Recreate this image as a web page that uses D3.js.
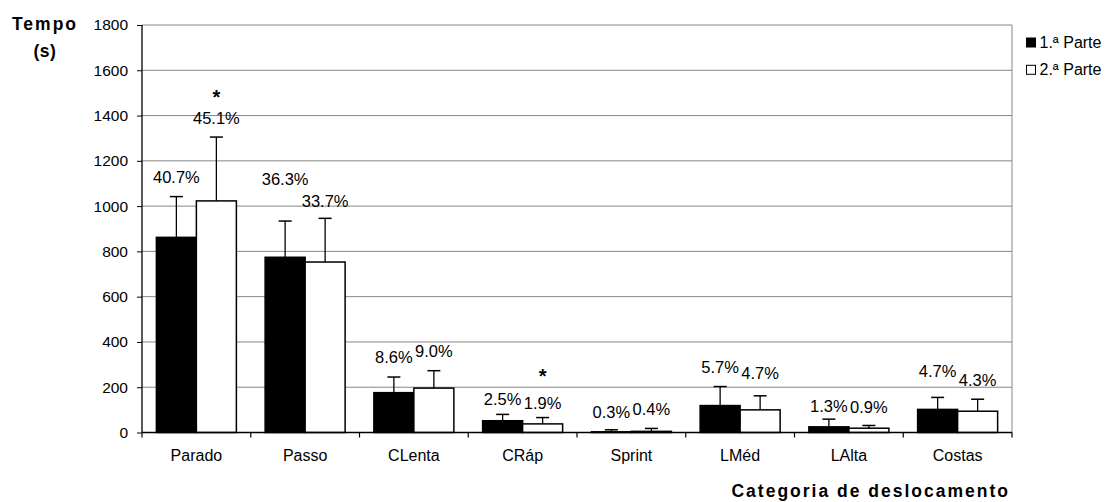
<!DOCTYPE html>
<html>
<head>
<meta charset="utf-8">
<script src="https://cdn.jsdelivr.net/npm/d3@7/dist/d3.min.js"></script>
<style>
  html, body { margin: 0; padding: 0; background: #fff; }
  svg { display: block; font-family: "Liberation Sans", Arial, sans-serif; }
</style>
</head>
<body>
<svg id="chart" width="1105" height="502"></svg>
<script>
// Time spent in each movement category (seconds), mean and mean + SD
const categories = ["Parado", "Passo", "CLenta", "CRáp", "Sprint", "LMéd", "LAlta", "Costas"];
const firstHalf    = [862, 774, 176, 52, 3, 119, 25, 102];
const firstHalfSD  = [1042, 934, 245, 80, 12, 203, 59, 155];
const secondHalf   = [1023, 753, 196, 38, 5, 100, 19, 94];
const secondHalfSD = [1305, 946, 273, 66, 18, 162, 31, 147];
const firstPct  = ["40.7%", "36.3%", "8.6%", "2.5%", "0.3%", "5.7%", "1.3%", "4.7%"];
const secondPct = ["45.1%", "33.7%", "9.0%", "1.9%", "0.4%", "4.7%", "0.9%", "4.3%"];
const secondSignificant = [true, false, false, true, false, false, false, false];
const yTicks = [0, 200, 400, 600, 800, 1000, 1200, 1400, 1600, 1800];
const seriesNames = ["1.ª Parte", "2.ª Parte"];

// label lift above the SD whisker, and star lift above the label, in pixels
const liftFirst  = [14, 36, 14, 9, 12, 14, 7, 20];
const liftSecond = [13, 11, 14, 9, 13, 17, 12, 13];
const starLift   = [20, 0, 0, 26, 0, 0, 0, 0];

const svg = d3.select("#chart");
const plotLeft = 142, plotRight = 1012, plotTop = 25, plotBottom = 432.5;
const font = "Liberation Sans, Arial, sans-serif";

const x = d3.scaleBand().domain(categories).range([plotLeft, plotRight]).padding(0);
const y = d3.scaleLinear().domain([0, 1800]).range([plotBottom, plotTop]);
const barW = 40;

// gridlines
svg.append("g").selectAll("line").data(yTicks.filter(d => d > 0)).join("line")
  .attr("x1", plotLeft).attr("x2", plotRight)
  .attr("y1", d => y(d)).attr("y2", d => y(d))
  .attr("stroke", "#868686").attr("stroke-width", 1);
svg.append("line").attr("x1", plotRight).attr("x2", plotRight).attr("y1", plotTop).attr("y2", plotBottom)
  .attr("stroke", "#868686").attr("stroke-width", 1);

const series = [
  { vals: firstHalf, sd: firstHalfSD, pct: firstPct, lift: liftFirst, fill: "#000", off: -barW, star: categories.map(() => false) },
  { vals: secondHalf, sd: secondHalfSD, pct: secondPct, lift: liftSecond, fill: "#fff", off: 0, star: secondSignificant }
];

series.forEach(s => {
  const g = svg.append("g");
  const bx = (c) => x(c) + x.bandwidth() / 2 + s.off;
  const mid = (c) => bx(c) + barW / 2;
  const labelY = (i) => y(s.sd[i]) - s.lift[i];
  // whiskers
  g.selectAll("line.w").data(categories).join("line").attr("class", "w")
    .attr("x1", mid).attr("x2", mid)
    .attr("y1", (c, i) => y(s.vals[i])).attr("y2", (c, i) => y(s.sd[i]))
    .attr("stroke", "#000").attr("stroke-width", 1.3);
  g.selectAll("line.c").data(categories).join("line").attr("class", "c")
    .attr("x1", (c) => mid(c) - 6.5).attr("x2", (c) => mid(c) + 6.5)
    .attr("y1", (c, i) => y(s.sd[i])).attr("y2", (c, i) => y(s.sd[i]))
    .attr("stroke", "#000").attr("stroke-width", 1.5);
  // bars
  g.selectAll("rect").data(categories).join("rect")
    .attr("x", bx).attr("width", barW)
    .attr("y", (c, i) => y(s.vals[i])).attr("height", (c, i) => y(0) - y(s.vals[i]))
    .attr("fill", s.fill).attr("stroke", "#000").attr("stroke-width", 1.5);
  // percentage labels
  g.selectAll("text.p").data(categories).join("text").attr("class", "p")
    .attr("text-anchor", "middle").attr("font-size", 16.5)
    .attr("x", mid)
    .attr("y", (c, i) => labelY(i))
    .text((c, i) => s.pct[i]);
  // significance marks
  const starred = categories.map((c, i) => i).filter(i => s.star[i]);
  g.selectAll("text.s").data(starred).join("text").attr("class", "s")
    .attr("text-anchor", "middle").attr("font-size", 20).attr("font-weight", "bold")
    .attr("x", i => mid(categories[i]))
    .attr("y", i => labelY(i) - starLift[i])
    .text("*");
});

// y axis
const yAxis = svg.append("g").attr("transform", `translate(${plotLeft},0)`)
  .call(d3.axisLeft(y).tickValues(yTicks).tickSize(5).tickPadding(9).tickFormat(d3.format("d")));
yAxis.select(".domain").attr("d", `M0,${plotTop}V${plotBottom}`).attr("stroke", "#000").attr("stroke-width", 1.3);
yAxis.selectAll(".tick line").attr("stroke", "#000");
yAxis.selectAll("text").attr("font-size", 15.5).attr("font-family", font).attr("fill", "#000");

// x axis
const xAxis = svg.append("g").attr("transform", `translate(0,${plotBottom})`)
  .call(d3.axisBottom(x).tickSize(0).tickPadding(17));
xAxis.select(".domain").attr("d", `M${plotLeft},0H${plotRight}`).attr("stroke", "#000").attr("stroke-width", 1.3);
xAxis.selectAll("text").attr("font-size", 16).attr("font-family", font).attr("fill", "#000");
svg.append("g").selectAll("line").data(d3.range(categories.length + 1)).join("line")
  .attr("x1", i => plotLeft + i * x.bandwidth()).attr("x2", i => plotLeft + i * x.bandwidth())
  .attr("y1", plotBottom).attr("y2", plotBottom + 5)
  .attr("stroke", "#000").attr("stroke-width", 1.2);

// axis titles
const yt = svg.append("text").attr("text-anchor", "middle").attr("font-weight", "bold")
  .attr("font-size", 17.5).attr("letter-spacing", 2);
yt.append("tspan").attr("x", 45).attr("y", 30).text("Tempo");
yt.append("tspan").attr("x", 45).attr("y", 57).attr("letter-spacing", 0.5).text("(s)");
svg.append("text").attr("text-anchor", "end").attr("font-weight", "bold")
  .attr("font-size", 17.5).attr("letter-spacing", 2)
  .attr("x", 1010).attr("y", 497).text("Categoria de deslocamento");

// legend
const lg = svg.append("g").attr("transform", "translate(1026,37.5)");
seriesNames.forEach((n, i) => {
  lg.append("rect").attr("x", 0.5).attr("y", i * 27.3 + 0.5).attr("width", 9).attr("height", 9)
    .attr("fill", series[i].fill).attr("stroke", "#000").attr("stroke-width", 1);
  lg.append("text").attr("x", 13.5).attr("y", i * 27.3 + 10.2).attr("font-size", 16).text(n);
});
</script>
</body>
</html>
